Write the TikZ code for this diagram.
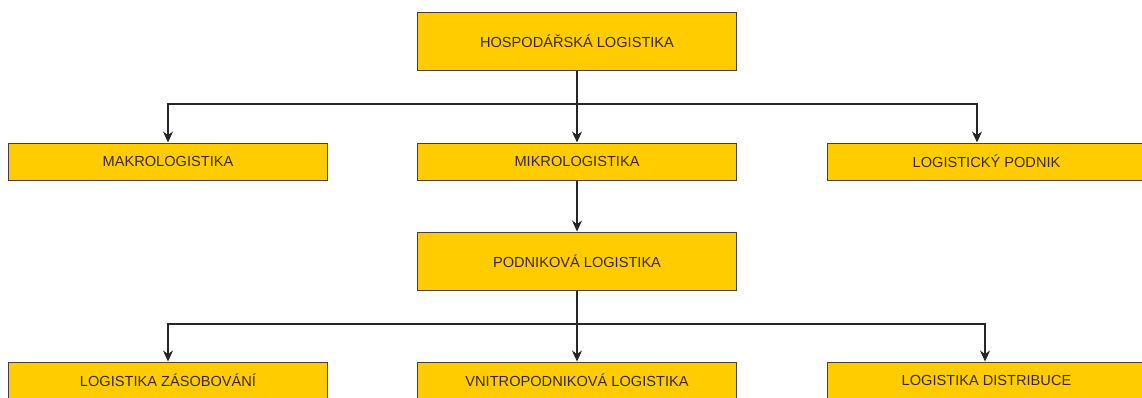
\documentclass[tikz,border=0pt]{standalone}
\usepackage{fontspec}
\setmainfont{Liberation Sans}
\usetikzlibrary{arrows.meta}

\definecolor{boxgold}{HTML}{FFCC00}
\definecolor{boxline}{HTML}{4A3E2C}
\definecolor{boxtext}{HTML}{3A2810}

\begin{document}
\begin{tikzpicture}[x=1pt,y=-1pt,
  box/.style={draw=boxline, fill=boxgold, text=boxtext, line width=1pt,
    minimum width=319pt, minimum height=37pt, inner sep=0pt,
    font=\fontsize{14.6}{17}\selectfont},
  bigbox/.style={box, minimum height=58pt},
  edgebox/.style={box, minimum width=339pt},
  link/.style={->, >={Stealth[length=11pt,width=10pt,inset=3.5pt]}, line width=1.1pt, draw=black!85}]
\useasboundingbox (0,0) rectangle (1142,397);
\clip (0,0) rectangle (1142,397);

\node (hosp) at (577,41) [bigbox] {HOSPODÁŘSKÁ LOGISTIKA};
\node (makro) at (168,161.5) [box] {MAKROLOGISTIKA};
\node (mikro) at (577,161.5) [box] {MIKROLOGISTIKA};
\node (logpodnik) at (996.5,161.5) [edgebox] {\hspace*{-20pt}LOGISTICKÝ PODNIK};
\node (podnik) at (577,261) [bigbox] {PODNIKOVÁ LOGISTIKA};
\node (zasob) at (168,380.5) [box] {LOGISTIKA ZÁSOBOVÁNÍ};
\node (vnitro) at (577,380.5) [box] {VNITROPODNIKOVÁ LOGISTIKA};
\node (distrib) at (996.5,380.5) [edgebox] {\hspace*{-20pt}LOGISTIKA DISTRIBUCE};

\coordinate (fork1) at (577,104);
\coordinate (fork2) at (577,324);

\draw [link] (hosp) -- (mikro);
\draw [link] (fork1) -| (makro.north);
\draw [link] (fork1) -| ([xshift=-19.5pt]logpodnik.north);
\draw [link] (mikro) -- (podnik);
\draw [link] (podnik) -- (vnitro);
\draw [link] (fork2) -| (zasob.north);
\draw [link] (fork2) -| ([xshift=-11.5pt]distrib.north);
\end{tikzpicture}
\end{document}
